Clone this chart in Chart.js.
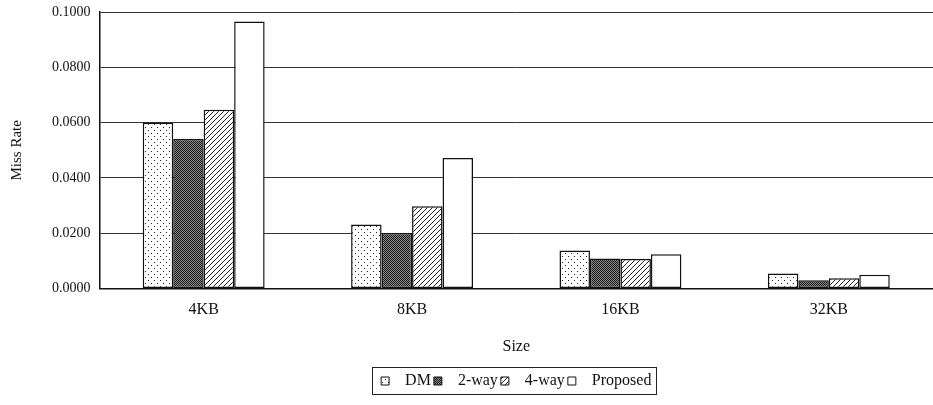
<!DOCTYPE html>
<html lang="en">
  <head>
    <meta charset="UTF-8" />
    <title>Miss Rate by Size</title>
    <script src="https://cdn.jsdelivr.net/npm/chart.js"></script>
    <style>
      html, body { margin: 0; padding: 0; background: #fff; }
      #wrap { width: 933px; height: 405px; }
    </style>
  </head>
  <body>
    <div id="wrap"><canvas id="chart"></canvas></div>
    <script>
      const sizes = ["4KB", "8KB", "16KB", "32KB"];
      const dmRate = [0.0600, 0.0232, 0.0138, 0.0055];
      const twoWayRate = [0.0541, 0.0201, 0.0109, 0.0030];
      const fourWayRate = [0.0647, 0.0298, 0.0107, 0.0037];
      const proposedRate = [0.0966, 0.0472, 0.0124, 0.0050];
      const yTicks = [0, 0.02, 0.04, 0.06, 0.08, 0.1];

      const serif = "'Liberation Serif', 'Times New Roman', serif";

      function makePattern(kind) {
        const c = document.createElement("canvas");
        const g = c.getContext("2d");
        if (kind === "dots") {
          c.width = 6; c.height = 6;
          g.fillStyle = "#fff"; g.fillRect(0, 0, 6, 6);
          g.fillStyle = "#222";
          g.fillRect(1, 1, 1, 1);
          g.fillRect(4, 4, 1, 1);
        } else if (kind === "dark") {
          c.width = 2; c.height = 2;
          g.fillStyle = "#8a8a8a"; g.fillRect(0, 0, 2, 2);
          g.fillStyle = "#1a1a1a";
          g.fillRect(0, 0, 1, 1);
          g.fillRect(1, 1, 1, 1);
        } else if (kind === "hatch") {
          c.width = 5; c.height = 5;
          g.fillStyle = "#fff"; g.fillRect(0, 0, 5, 5);
          g.strokeStyle = "#222";
          g.lineWidth = 1;
          g.beginPath();
          g.moveTo(-1, 6); g.lineTo(6, -1);
          g.moveTo(-1, 1); g.lineTo(1, -1);
          g.moveTo(4, 6); g.lineTo(6, 4);
          g.stroke();
        } else {
          c.width = 2; c.height = 2;
          g.fillStyle = "#fff"; g.fillRect(0, 0, 2, 2);
        }
        return g.createPattern(c, "repeat");
      }

      // box drawn around the legend, like the original
      const legendFrame = {
        id: "legendFrame",
        afterDraw(chart) {
          const boxes = chart.legend && chart.legend.legendHitBoxes;
          if (!boxes || !boxes.length) return;
          let left = Infinity, right = -Infinity, top = Infinity, bottom = -Infinity;
          boxes.forEach((b) => {
            left = Math.min(left, b.left);
            right = Math.max(right, b.left + b.width);
            top = Math.min(top, b.top);
            bottom = Math.max(bottom, b.top + b.height);
          });
          const ctx = chart.ctx;
          ctx.save();
          ctx.strokeStyle = "#222";
          ctx.lineWidth = 1;
          ctx.strokeRect(Math.round(left - 9) + 0.5, Math.round(top - 6) + 0.5,
            Math.round(right - left + 14), Math.round(bottom - top + 11));
          ctx.restore();
        },
      };

      function bar(label, data, fill) {
        return {
          label: label,
          data: data,
          backgroundColor: fill,
          borderColor: "#111",
          borderWidth: 1.5,
          borderSkipped: false,
          categoryPercentage: 0.585,
          barPercentage: 1.0,
        };
      }

      new Chart(document.getElementById("chart"), {
        type: "bar",
        data: {
          labels: sizes,
          datasets: [
            bar("DM", dmRate, makePattern("dots")),
            bar("2-way", twoWayRate, makePattern("dark")),
            bar("4-way", fourWayRate, makePattern("hatch")),
            bar("Proposed", proposedRate, makePattern("plain")),
          ],
        },
        options: {
          responsive: true,
          maintainAspectRatio: false,
          animation: false,
          layout: { padding: { left: 4, right: 0, top: 12, bottom: 6 } },
          plugins: {
            tooltip: { enabled: false },
            legend: {
              position: "bottom",
              fullSize: false,
              labels: {
                color: "#111",
                boxWidth: 8,
                boxHeight: 8,
                padding: 3,
                font: { family: serif, size: 16 },
                generateLabels: (chart) =>
                  Chart.defaults.plugins.legend.labels
                    .generateLabels(chart)
                    .map((item) => ({ ...item, text: "  " + item.text, lineWidth: 1 })),
              },
            },
          },
          scales: {
            x: {
              grid: { display: false, drawTicks: false },
              border: { display: true, color: "#111", width: 1.5 },
              ticks: {
                color: "#111",
                padding: 12,
                font: { family: serif, size: 16 },
              },
              title: {
                display: true,
                text: "Size",
                color: "#111",
                padding: { top: 5, bottom: 14 },
                font: { family: serif, size: 16 },
              },
            },
            y: {
              min: 0,
              max: 0.1,
              afterBuildTicks: (axis) => {
                axis.ticks = yTicks.map((v) => ({ value: v }));
              },
              afterFit: (axis) => {
                axis.paddingTop = 0;
              },
              grid: { color: "#333", lineWidth: 1, drawTicks: false },
              border: { display: true, color: "#111", width: 1.5 },
              ticks: {
                color: "#111",
                padding: 9,
                font: { family: serif, size: 14 },
                callback: (value) => Number(value).toFixed(4),
              },
              title: {
                display: true,
                text: "Miss Rate",
                color: "#111",
                padding: { top: 4, bottom: 17 },
                font: { family: serif, size: 15 },
              },
            },
          },
        },
        plugins: [legendFrame],
      });
    </script>
  </body>
</html>
